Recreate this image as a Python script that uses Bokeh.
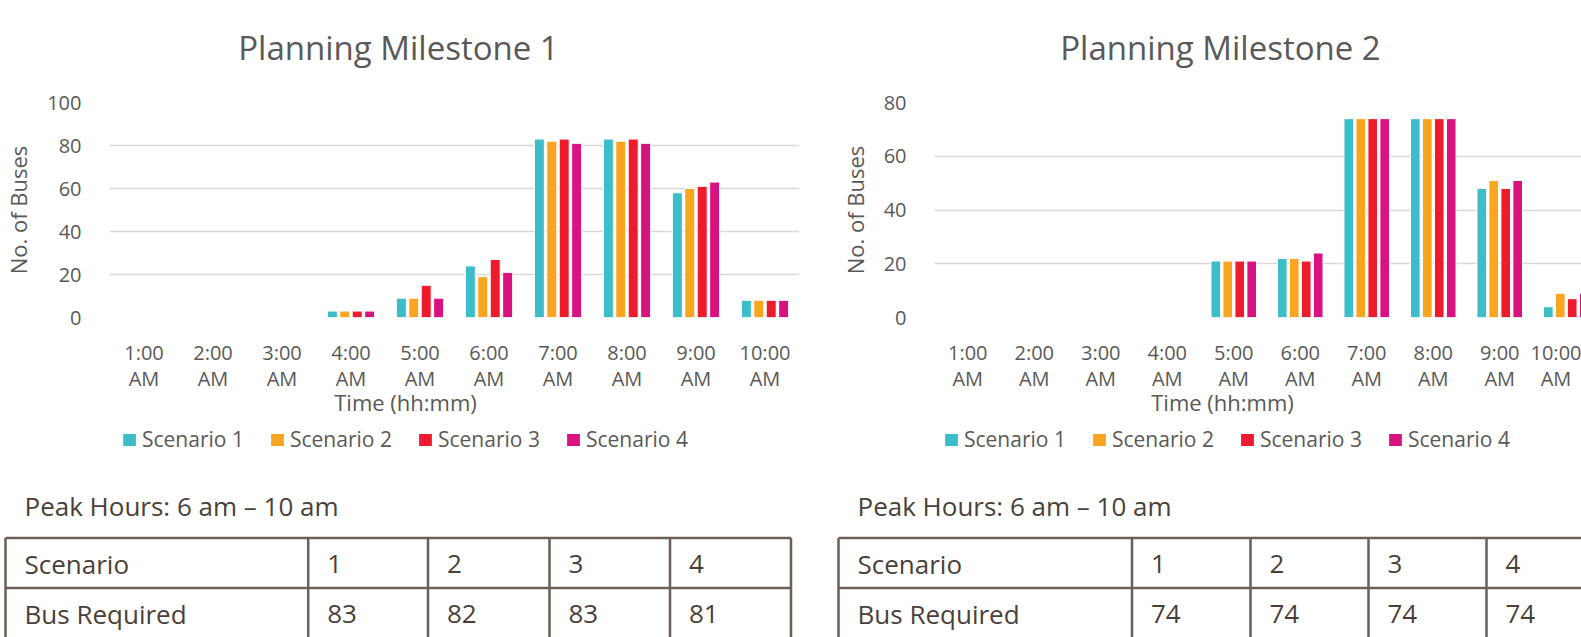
from bokeh.plotting import figure
from bokeh.models import (ColumnDataSource, Range1d, FixedTicker, SingleIntervalTicker,
                          Legend, LegendItem)
from bokeh.layouts import row, column
from bokeh.embed import file_html
from bokeh.resources import INLINE
from bokeh.transform import dodge
from bokeh.core.properties import value

# ---------------- data ----------------
times = ["1:00 AM", "2:00 AM", "3:00 AM", "4:00 AM", "5:00 AM",
         "6:00 AM", "7:00 AM", "8:00 AM", "9:00 AM", "10:00 AM"]
series_names = ["Scenario 1", "Scenario 2", "Scenario 3", "Scenario 4"]

m1_s1 = [0, 0, 0, 3, 9, 24, 83, 83, 58, 8]
m1_s2 = [0, 0, 0, 3, 9, 19, 82, 82, 60, 8]
m1_s3 = [0, 0, 0, 3, 15, 27, 83, 83, 61, 8]
m1_s4 = [0, 0, 0, 3, 9, 21, 81, 81, 63, 8]

m2_s1 = [0, 0, 0, 0, 21, 22, 74, 74, 48, 4]
m2_s2 = [0, 0, 0, 0, 21, 22, 74, 74, 51, 9]
m2_s3 = [0, 0, 0, 0, 21, 21, 74, 74, 48, 7]
m2_s4 = [0, 0, 0, 0, 21, 24, 74, 74, 51, 9]

table_header = ["Scenario", "1", "2", "3", "4"]
m1_required = ["Bus Required", "83", "82", "83", "81"]
m2_required = ["Bus Required", "74", "74", "74", "74"]
peak_note = "Peak Hours: 6 am \u2013 10 am"
x_title = "Time (hh:mm)"
y_title = "No. of Buses"

# ---------------- styles / layout ----------------
COLORS = ["#3dbdca", "#f9a51f", "#ec1c2d", "#d8137f"]
TXT = "#595959"
GRID = "#d9d9d9"
TAB_TXT = "#4b3f3a"
TAB_LINE = "#6b5f58"
FONT = "Open Sans"
HEAD_H = 70      # page y 0..70
CH_TOP = 32
CH_FRAME = 216
CH_BOT = 76
CH_H = CH_TOP + CH_FRAME + CH_BOT   # page y 70..394
FOOT_H = 76      # page y 394..470
TAB_H = 167      # page y 470..637
NAN = float("nan")


def blank(x0, x1, y0, y1):
    f = figure(width=int(round(x1 - x0)), height=int(round(y1 - y0)),
               x_range=Range1d(x0, x1), y_range=Range1d(y1, y0),
               output_backend="svg", toolbar_location=None, min_border=0,
               frame_align=False, x_axis_location=None, y_axis_location=None)
    f.grid.visible = False
    f.outline_line_color = None
    f.background_fill_color = "white"
    f.border_fill_color = "white"
    return f


def make_header(x0, x1, title, cx):
    h = blank(x0, x1, 0, HEAD_H)
    h.text(x=[cx], y=[47], text=[title], text_align="center", text_baseline="middle",
           text_font=value(FONT), text_font_size="33px", text_color=TXT)
    return h


def make_chart(series, ymax, width, b_left, b_right, n_visible):
    x_start = -0.5
    p = figure(width=width, height=CH_H, x_range=Range1d(x_start, x_start + n_visible),
               y_range=Range1d(0, ymax), output_backend="svg", toolbar_location=None,
               min_border_left=b_left, min_border_right=b_right,
               min_border_top=CH_TOP, min_border_bottom=CH_BOT, frame_align=False)
    p.outline_line_color = None
    p.background_fill_color = "white"
    p.border_fill_color = "white"

    data = dict(x=list(range(len(times))))
    for k, s in enumerate(series):
        data["s%d" % k] = s
    src = ColumnDataSource(data)
    offsets = [-0.27, -0.09, 0.09, 0.27]
    for k in range(4):
        p.vbar(x=dodge("x", offsets[k]), top="s%d" % k, width=0.145, source=src,
               fill_color=COLORS[k], line_color="white", line_width=1)

    p.xaxis.ticker = FixedTicker(ticks=list(range(len(times))))
    p.xaxis.major_label_overrides = {i: t.replace(" ", "\n") for i, t in enumerate(times)}
    p.yaxis.ticker = SingleIntervalTicker(interval=20, num_minor_ticks=0)
    for ax in (p.xaxis[0], p.yaxis[0]):
        ax.axis_line_color = None
        ax.major_tick_line_color = None
        ax.minor_tick_line_color = None
        ax.major_label_text_font = FONT
        ax.major_label_text_font_size = "20px"
        ax.major_label_text_color = TXT
    p.xaxis.major_label_standoff = 15
    p.xaxis.major_label_text_line_height = 0.97
    p.yaxis.major_label_standoff = 22
    p.yaxis.axis_label = y_title
    p.yaxis.axis_label_text_font = FONT
    p.yaxis.axis_label_text_font_size = "22px"
    p.yaxis.axis_label_text_font_style = "normal"
    p.yaxis.axis_label_text_color = TXT
    p.yaxis.axis_label_standoff = 11

    p.xgrid.grid_line_color = None
    p.ygrid.grid_line_color = GRID
    p.ygrid.grid_line_width = 1.5
    return p


def make_footer(x0, x1, cx, legend_left):
    y0 = HEAD_H + CH_H
    f = blank(x0, x1, y0, y0 + FOOT_H)
    f.text(x=[cx], y=[401], text=[x_title], text_align="center", text_baseline="middle",
           text_font=value(FONT), text_font_size="22px", text_color=TXT)
    # legend swatches only (no visible marks: NaN point)
    rends = [f.vbar(x=[NAN], top=[NAN], width=1, fill_color=c, line_color=None)
             for c in COLORS]
    lh = 24
    legend = Legend(items=[LegendItem(label=n, renderers=[r]) for n, r in zip(series_names, rends)],
                    orientation="horizontal",
                    location=(legend_left - x0, FOOT_H - (441 - y0) - lh / 2),
                    padding=0, margin=0, spacing=0, glyph_width=16, glyph_height=15,
                    label_standoff=5, label_width=127, label_height=lh,
                    label_text_font=FONT, label_text_font_size="21px",
                    label_text_color=TXT, border_line_color=None,
                    background_fill_alpha=0)
    f.add_layout(legend)
    return f


def make_table(x0, x1, edges, header, req):
    y0 = HEAD_H + CH_H + FOOT_H
    t = blank(x0, x1, y0, y0 + TAB_H)
    hy = [537.5, 587.5]
    t.segment(x0=[edges[0]] * 2, x1=[edges[-1]] * 2, y0=hy, y1=hy,
              line_color=TAB_LINE, line_width=2.5)
    t.segment(x0=edges, x1=edges, y0=[hy[0]] * len(edges), y1=[660] * len(edges),
              line_color=TAB_LINE, line_width=2.5)
    tx = [e + 19 for e in edges[:-1]]
    src = ColumnDataSource(dict(x=tx + tx, y=[563] * 5 + [613] * 5, t=header + req))
    t.text(x="x", y="y", text="t", source=src, text_align="left", text_baseline="middle",
           text_font=value(FONT), text_font_size="26px", text_color=TAB_TXT)
    t.text(x=[edges[0] + 19], y=[505], text=[peak_note], text_align="left",
           text_baseline="middle", text_font=value(FONT), text_font_size="26px",
           text_color=TAB_TXT)
    return t


panel1 = column(
    make_header(0, 820, "Planning Milestone 1", 398),
    make_chart([m1_s1, m1_s2, m1_s3, m1_s4], 100, 820, 100, 21, 10),
    make_footer(0, 820, 405, 121),
    make_table(0, 820, [5, 307.7, 427.5, 549, 669.5, 790.5], table_header, m1_required),
)
panel2 = column(
    make_header(820, 1581, "Planning Milestone 2", 1220),
    make_chart([m2_s1, m2_s2, m2_s3, m2_s4], 80, 761, 114, 0, 647 / 66.5),
    make_footer(820, 1581, 1222, 943),
    make_table(820, 1581, [838, 1131.5, 1250, 1368, 1486, 1604], table_header, m2_required),
)

layout = row(panel1, panel2)

open("out.html", "w").write(file_html(layout, INLINE))
